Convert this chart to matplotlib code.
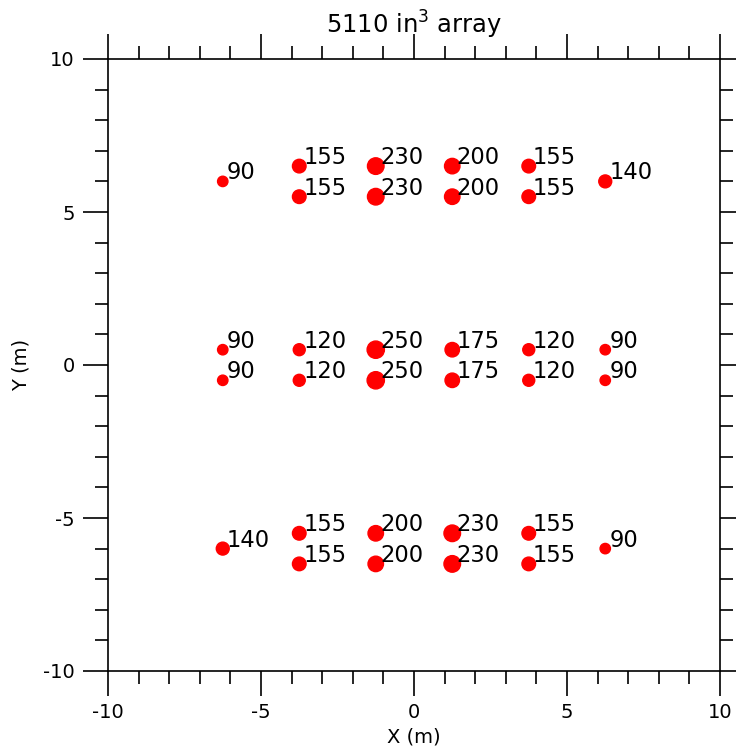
import matplotlib
matplotlib.use("Agg")
import matplotlib.pyplot as plt
from matplotlib.ticker import MultipleLocator

plt.rcParams['axes.unicode_minus'] = False

# Data
xs = [-3.75, -1.25, 1.25, 3.75,
      -3.75, -1.25, 1.25, 3.75,
      -6.25, 6.25,
      -6.25, -3.75, -1.25, 1.25, 3.75, 6.25,
      -6.25, -3.75, -1.25, 1.25, 3.75, 6.25,
      -3.75, -1.25, 1.25, 3.75,
      -3.75, -1.25, 1.25, 3.75,
      -6.25, 6.25]
ys = [6.5, 6.5, 6.5, 6.5,
      5.5, 5.5, 5.5, 5.5,
      6.0, 6.0,
      0.5, 0.5, 0.5, 0.5, 0.5, 0.5,
      -0.5, -0.5, -0.5, -0.5, -0.5, -0.5,
      -5.5, -5.5, -5.5, -5.5,
      -6.5, -6.5, -6.5, -6.5,
      -6.0, -6.0]
volumes = [155, 230, 200, 155,
           155, 230, 200, 155,
           90, 140,
           90, 120, 250, 175, 120, 90,
           90, 120, 250, 175, 120, 90,
           155, 200, 230, 155,
           155, 200, 230, 155,
           140, 90]

fig = plt.figure(figsize=(7.36, 7.46), dpi=100)
ax = fig.add_axes([108/736, 1-671/746, (720-108)/736, (671-59)/746])

ax.scatter(xs, ys, s=[0.62*v for v in volumes], color='#ff0000', zorder=3)
for x, y, v in zip(xs, ys, volumes):
    ax.annotate(str(v), (x, y), xytext=(3, 1.5), textcoords='offset points',
                ha='left', va='baseline', fontsize=16.3)

ax.set_xlim(-10, 10)
ax.set_ylim(-10, 10)
ax.xaxis.set_major_locator(MultipleLocator(5))
ax.xaxis.set_minor_locator(MultipleLocator(1))
ax.yaxis.set_major_locator(MultipleLocator(5))
ax.yaxis.set_minor_locator(MultipleLocator(1))
ax.tick_params(which='both', direction='out', top=True, right=True,
               labeltop=False, labelright=False, width=1.2, labelsize=14)
ax.tick_params(axis='x', which='major', length=18, pad=5)
ax.tick_params(axis='y', which='major', length=18, pad=6)
ax.tick_params(which='minor', length=9.5)
for sp in ax.spines.values():
    sp.set_linewidth(1.2)

ax.set_xlabel('X (m)', fontsize=14, labelpad=4)
ax.set_ylabel('Y (m)', fontsize=14, labelpad=9)
ax.set_title('5110 in$^3$ array', fontsize=17.5, pad=18)

fig.savefig('out.png', dpi=100)
